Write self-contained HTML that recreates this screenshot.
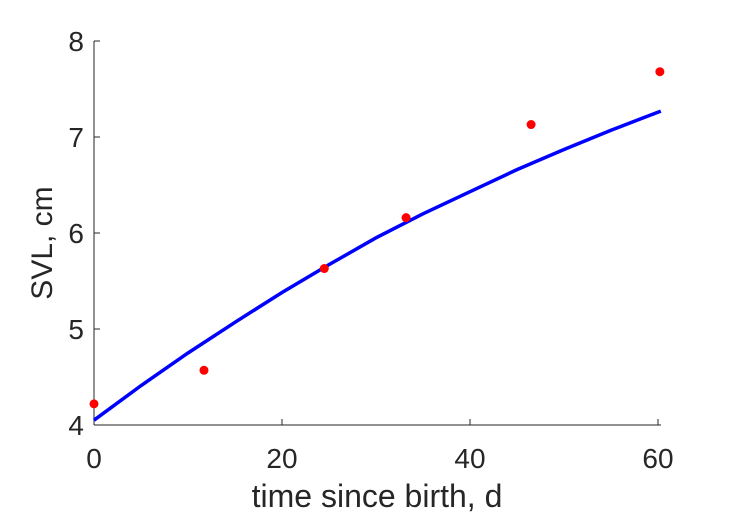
<!DOCTYPE html>
<html><head><meta charset="utf-8"><style>
body{margin:0;background:#fff;}
svg{display:block;font-family:"Liberation Sans",sans-serif;}
</style></head><body>
<svg id="chart" width="729" height="521" viewBox="0 0 729 521">
<rect width="729" height="521" fill="#fff"/>
<g id="axes"></g>
<g id="marks"></g>
</svg>
<script>
const xTicks=[0,20,40,60];
const yTicks=[4,5,6,7,8];
const obsX=[0,11.7,24.5,33.2,46.5,60.2];
const obsY=[4.22,4.57,5.63,6.16,7.13,7.68];
const fitX=[0,5,10,15,20,25,30,35,40,45,50,55,60.3];
const fitY=[4.05,4.41,4.75,5.07,5.38,5.67,5.95,6.2,6.43,6.66,6.87,7.07,7.27];
const L=94,R=661,T=41,B=425,xMin=0,xMax=60.32,yMin=4,yMax=8;
const sx=v=>L+(v-xMin)/(xMax-xMin)*(R-L);
const sy=v=>B-(v-yMin)/(yMax-yMin)*(B-T);
const NS="http://www.w3.org/2000/svg";
const ax=document.getElementById('axes'),mk=document.getElementById('marks');
function mkEl(t,a,p){const e=document.createElementNS(NS,t);for(const k in a)e.setAttribute(k,a[k]);p.appendChild(e);return e;}
let e=mkEl('line',{x1:L,y1:B,x2:R,y2:B,stroke:'#262626','stroke-width':1},ax);


e=mkEl('line',{x1:L,y1:T,x2:L,y2:B,stroke:'#262626','stroke-width':1},ax);


xTicks.forEach(v=>{
 mkEl('line',{x1:sx(v),y1:B,x2:sx(v),y2:B-6,stroke:'#262626'},ax);
 const t=mkEl('text',{x:sx(v),y:468,'text-anchor':'middle','font-size':28,fill:'#262626'},ax);
 t.textContent=v;
 
 
});
yTicks.forEach(v=>{
 mkEl('line',{x1:L,y1:sy(v),x2:L+6,y2:sy(v),stroke:'#262626'},ax);
 const t=mkEl('text',{x:L-10,y:sy(v)+10,'text-anchor':'end','font-size':28,fill:'#262626'},ax);
 t.textContent=v;
 
 
});
let t=mkEl('text',{x:377,y:507,'text-anchor':'middle','font-size':32,fill:'#262626'},ax);
t.textContent='time since birth, d';


t=mkEl('text',{x:52,y:(T+B)/2+10,'text-anchor':'middle','font-size':30,fill:'#262626',transform:`rotate(-90 52 ${(T+B)/2+10})`},ax);
t.textContent='SVL, cm';


const p=mkEl('polyline',{points:fitX.map((x,i)=>sx(x)+','+sy(fitY[i])).join(' '),fill:'none',stroke:'#0000ff','stroke-width':3.5},mk);


obsX.forEach((x,i)=>{
 const c=mkEl('circle',{cx:sx(x),cy:sy(obsY[i]),r:4.5,fill:'#ff0000'},mk);
 
 
});
</script>
</body></html>
